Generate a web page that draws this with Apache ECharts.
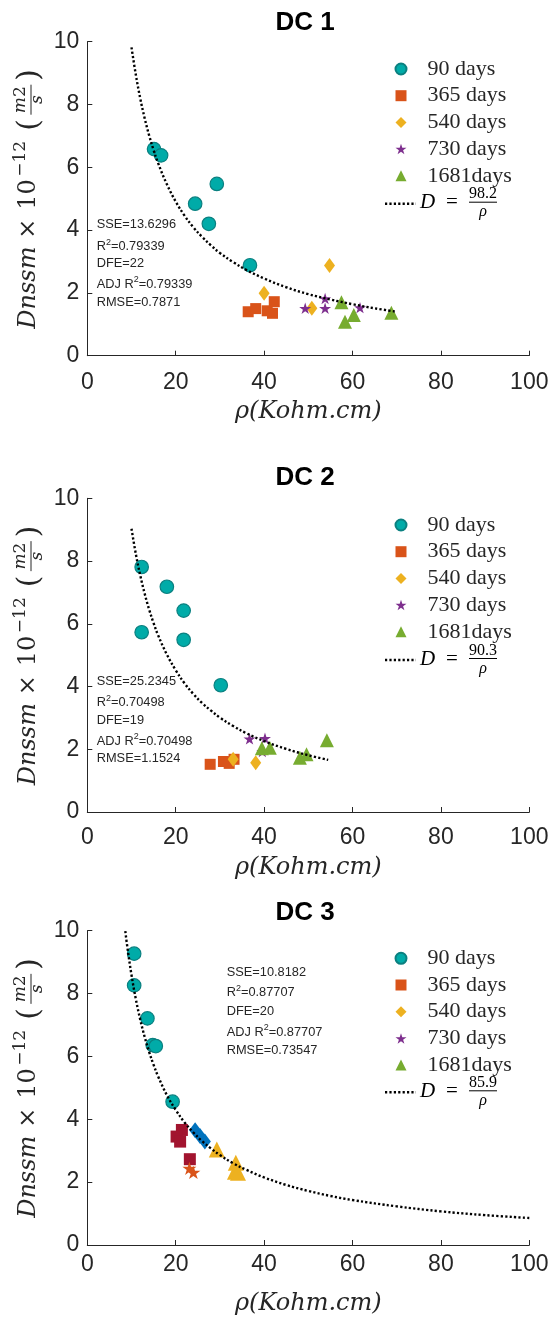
<!DOCTYPE html>
<html><head><meta charset="utf-8">
<script src="https://cdn.jsdelivr.net/npm/echarts@6/dist/echarts.min.js"></script>
<style>html,body{margin:0;padding:0;background:#fff}#c{width:554px;height:1318px}</style>
</head><body><div id="c"></div>
<script>
// ---------------- DATA ----------------
const panelTitles = ['DC 1', 'DC 2', 'DC 3'];
const seriesNames = ['90 days', '365 days', '540 days', '730 days', '1681days'];
const xAxisName = 'ρ(Kohm.cm)';
const xMin = 0, xMax = 100, xStep = 20;
const yMin = 0, yMax = 10, yStep = 2;

const fitCoefficients = ['98.2', '90.3', '85.9'];
const sseValues = ['13.6296', '25.2345', '10.8182'];
const r2Values = ['0.79339', '0.70498', '0.87707'];
const dfeValues = ['22', '19', '20'];
const adjR2Values = ['0.79339', '0.70498', '0.87707'];
const rmseValues = ['0.7871', '1.1524', '0.73547'];

// DC 1
const dc1_90 = [[15.1, 6.58], [16.7, 6.38], [29.3, 5.47], [24.4, 4.84], [27.5, 4.20], [36.8, 2.88]];
const dc1_365 = [[36.4, 1.40], [38.1, 1.50], [40.7, 1.43], [42.3, 1.72], [41.9, 1.35]];
const dc1_540 = [[40.0, 1.99], [54.8, 2.87], [50.8, 1.51]];
const dc1_730 = [[49.3, 1.51], [53.8, 1.82], [53.8, 1.51], [61.7, 1.53]];
const dc1_1681 = [[57.5, 1.70], [58.3, 1.08], [60.3, 1.30], [68.8, 1.37]];
const dc1_fit = [[10, 9.82], [11, 8.93], [12, 8.18], [13, 7.55], [14, 7.01], [15, 6.55], [16, 6.14], [18, 5.46], [20, 4.91], [22, 4.46], [24, 4.09], [26, 3.78], [28, 3.51], [30, 3.27], [33, 2.98], [36, 2.73], [40, 2.46], [45, 2.18], [50, 1.96], [55, 1.79], [60, 1.64], [65, 1.51], [70, 1.40]];

// DC 2
const dc2_90 = [[12.3, 7.81], [18.0, 7.18], [21.8, 6.42], [12.3, 5.73], [21.8, 5.49], [30.2, 4.04]];
const dc2_365 = [[27.8, 1.52], [30.8, 1.61], [32.1, 1.55], [33.2, 1.68]];
const dc2_540 = [[33.0, 1.68], [38.1, 1.57]];
const dc2_730 = [[36.7, 2.33], [40.2, 2.35], [39.6, 1.93]];
const dc2_1681 = [[39.5, 2.03], [41.3, 2.05], [48.1, 1.73], [49.6, 1.84], [54.2, 2.29]];
const dc2_fit = [[10, 9.03], [11, 8.21], [12, 7.53], [13, 6.95], [14, 6.45], [15, 6.02], [16, 5.64], [18, 5.02], [20, 4.52], [22, 4.10], [24, 3.76], [26, 3.47], [28, 3.23], [30, 3.01], [33, 2.74], [36, 2.51], [40, 2.26], [45, 2.01], [50, 1.81], [54.5, 1.66]];

// DC 3
const dc3_90 = [[10.6, 9.27], [10.6, 8.26], [13.6, 7.21], [14.8, 6.36], [15.5, 6.33], [19.3, 4.56]];
const dc3_365 = [[21.4, 3.66], [20.2, 3.45], [21.0, 3.29], [23.2, 2.73]];
const dc3_540 = [[24.4, 3.65], [25.5, 3.47], [26.6, 3.29]];
const dc3_730 = [[23.1, 2.44], [24.0, 2.31]];
const dc3_1681 = [[29.3, 3.04], [33.6, 2.62], [33.4, 2.33], [34.1, 2.30]];
const dc3_fit = [[8.6, 9.99], [9, 9.54], [10, 8.59], [11, 7.81], [12, 7.16], [13, 6.61], [14, 6.14], [15, 5.73], [16, 5.37], [18, 4.77], [20, 4.30], [22, 3.90], [24, 3.58], [26, 3.30], [28, 3.07], [30, 2.86], [33, 2.60], [36, 2.39], [40, 2.15], [45, 1.91], [50, 1.72], [55, 1.56], [60, 1.43], [70, 1.23], [80, 1.07], [90, 0.95], [100, 0.86]];

// ---------------- LAYOUT / STYLE ----------------
const AX = '#262626';
const STAR = 'path://M0,-100L22.45,-30.9L95.1,-30.9L36.3,11.8L58.8,80.9L0,38.2L-58.8,80.9L-36.3,11.8L-95.1,-30.9L-22.45,-30.9Z';
const layout = [
  {top: 41.7, h: 314, titleTop: 9.7, labelMargin: 15, nameGap: 44, legendTop: 58, fitY: 203.7, statsX: 96.7, statsY: [224.3, 246.7, 263.3, 284.3, 302.3]},
  {top: 498.3, h: 313.7, titleTop: 465, labelMargin: 14, nameGap: 44, legendTop: 514, fitY: 660, statsX: 96.7, statsY: [681.7, 702.7, 720, 741, 758.3]},
  {top: 930.7, h: 314.3, titleTop: 899.7, labelMargin: 8, nameGap: 47, legendTop: 947.3, fitY: 1092.3, statsX: 226.7, statsY: [972.3, 992.7, 1011, 1032.3, 1050.3]}
];
const panelData = [
  [dc1_90, dc1_365, dc1_540, dc1_730, dc1_1681, dc1_fit],
  [dc2_90, dc2_365, dc2_540, dc2_730, dc2_1681, dc2_fit],
  [dc3_90, dc3_365, dc3_540, dc3_730, dc3_1681, dc3_fit]
];
const styleStd = [
  {symbol: 'circle', size: 13.5, color: '#00ABA8', border: '#0B8080'},
  {symbol: 'rect', size: 11, color: '#D95319'},
  {symbol: 'diamond', size: [11, 15], color: '#EDB120'},
  {symbol: STAR, size: 12, color: '#7E2F8E'},
  {symbol: 'triangle', size: 14, color: '#77AC30'}
];
const styleDC3 = [
  {symbol: 'circle', size: 13.5, color: '#00ABA8', border: '#0B8080'},
  {symbol: 'rect', size: 12, color: '#A2142F'},
  {symbol: 'diamond', size: [12, 16], color: '#0072BD'},
  {symbol: STAR, size: 14, color: '#D95319'},
  {symbol: 'triangle', size: 16, color: '#EDB120'}
];
const legendIcons = ['circle', 'rect', 'diamond', STAR, 'triangle'];

const grids = [], xAxes = [], yAxes = [], series = [], titles = [], legends = [], graphics = [];

function txt(x, y, text, font, align, extra) {
  return {type: 'text', x: x, y: y, silent: true, style: Object.assign({text: text, font: font, fill: AX,
    align: align || 'left', textAlign: align || 'left', verticalAlign: 'middle', textVerticalAlign: 'middle'}, extra || {})};
}

function yLabel(cy) {
  const F = '"DejaVu Serif"';
  return {type: 'group', x: 37, y: cy - 10, rotation: Math.PI / 2, silent: true, children: [
    txt(-140, -8.4, 'Dnssm', 'italic 24px ' + F),
    txt(-50, -8.4, '×', '24px ' + F),
    txt(-21, -8.4, '10', '24px ' + F),
    txt(12, -16, '−12', '17px ' + F),
    txt(58, -7, '(', '30px ' + F),
    txt(89, -16, '{i|m}{r|2}', '17px ' + F, 'center', {rich: {
      i: {fontStyle: 'italic', fontSize: 17, fontFamily: 'DejaVu Serif', fill: AX, color: AX},
      r: {fontSize: 17, fontFamily: 'DejaVu Serif', fill: AX, color: AX}}}),
    {type: 'line', silent: true, shape: {x1: 74, y1: -6, x2: 104, y2: -6}, style: {stroke: AX, lineWidth: 1}},
    txt(89, 1, 's', 'italic 17px ' + F, 'center'),
    txt(108, -7, ')', '30px ' + F)
  ]};
}

function fitLegend(y0, coef) {
  const F = '"Liberation Serif"';
  return {type: 'group', silent: true, children: [
    {type: 'line', shape: {x1: 385, y1: y0, x2: 416, y2: y0}, style: {stroke: '#000', lineWidth: 2.4, lineDash: [2.2, 2.2]}},
    txt(420, y0 - 1, 'D', 'italic 21px ' + F, 'left', {fill: '#000'}),
    txt(452, y0 - 1, '=', '21px ' + F, 'center', {fill: '#000'}),
    txt(483, y0 - 9.5, coef, '16px ' + F, 'center', {fill: '#000'}),
    {type: 'line', shape: {x1: 469, y1: y0 - 1.5, x2: 497, y2: y0 - 1.5}, style: {stroke: '#000', lineWidth: 1}},
    txt(483, y0 + 8.5, 'ρ', 'italic 16px ' + F, 'center', {fill: '#000'})
  ]};
}

function statsBlock(i) {
  const L = layout[i];
  const F = '12.8px "Liberation Sans"';
  const rich = {
    n: {fontSize: 12.8, fontFamily: 'Liberation Sans', fill: AX, color: AX},
    s: {fontSize: 9, fontFamily: 'Liberation Sans', fill: AX, color: AX, padding: [0, 0, 9, 0]}
  };
  const lines = [
    '{n|SSE=' + sseValues[i] + '}',
    '{n|R}{s|2}{n|=' + r2Values[i] + '}',
    '{n|DFE=' + dfeValues[i] + '}',
    '{n|ADJ R}{s|2}{n|=' + adjR2Values[i] + '}',
    '{n|RMSE=' + rmseValues[i] + '}'
  ];
  return lines.map((t, k) => txt(L.statsX, L.statsY[k], t, F, 'left', {rich: rich}));
}

layout.forEach((L, i) => {
  grids.push({left: 87.3, right: 24.7, top: L.top, height: L.h, containLabel: false});
  xAxes.push({
    type: 'value', gridIndex: i, min: xMin, max: xMax, interval: xStep,
    axisLine: {show: true, onZero: false, lineStyle: {color: AX, width: 1}},
    axisTick: {show: true, inside: true, length: 5, lineStyle: {color: AX, width: 1}},
    splitLine: {show: false},
    axisLabel: {color: AX, fontSize: 23, fontFamily: 'Liberation Sans', margin: L.labelMargin},
    name: xAxisName, nameLocation: 'middle', nameGap: L.nameGap,
    nameTextStyle: {color: AX, fontFamily: 'DejaVu Serif', fontStyle: 'italic', fontSize: 24}
  });
  yAxes.push({
    type: 'value', gridIndex: i, min: yMin, max: yMax, interval: yStep,
    axisLine: {show: true, onZero: false, lineStyle: {color: AX, width: 1}},
    axisTick: {show: true, inside: true, length: 5, lineStyle: {color: AX, width: 1}},
    splitLine: {show: false},
    axisLabel: {color: AX, fontSize: 23, fontFamily: 'Liberation Sans', margin: 8}
  });
  const st = i === 2 ? styleDC3 : styleStd;
  const d = panelData[i];
  for (let k = 0; k < 5; k++) {
    const s = st[k];
    series.push({
      type: 'scatter', name: seriesNames[k], data: d[k], xAxisIndex: i, yAxisIndex: i,
      symbol: s.symbol, symbolSize: s.size, symbolKeepAspect: true,
      itemStyle: {color: s.color, borderColor: s.border || s.color, borderWidth: s.border ? 1.2 : 0, opacity: 1},
      emphasis: {disabled: true}, z: 2
    });
  }
  series.push({
    type: 'line', name: 'fit ' + panelTitles[i], data: d[5], xAxisIndex: i, yAxisIndex: i,
    showSymbol: false, symbol: 'none', smooth: 0.4, silent: true,
    lineStyle: {color: '#000', width: 2.4, type: [2.2, 2.2], cap: 'butt'}, z: 3
  });
  titles.push({
    text: panelTitles[i], left: 275.4, top: L.titleTop, padding: 0,
    textStyle: {fontSize: 26, fontWeight: 'bold', fontFamily: 'Liberation Sans', color: '#000', lineHeight: 26}
  });
  legends.push({
    orient: 'vertical', left: 394.5, top: L.legendTop, padding: 0,
    itemWidth: 11, itemHeight: 11, itemGap: 4.7, selectedMode: false,
    data: seriesNames.map((n, k) => ({name: n, icon: legendIcons[k]})),
    formatter: n => '{t|' + n + '}',
    textStyle: {fontFamily: 'Liberation Serif', fontSize: 22, color: AX,
      rich: {t: {fontFamily: 'Liberation Serif', fontSize: 22, lineHeight: 22, color: AX, padding: [0, 0, 0, 16]}}}
  });
  graphics.push(yLabel(L.top + L.h / 2));
  graphics.push(fitLegend(L.fitY, fitCoefficients[i]));
  statsBlock(i).forEach(e => graphics.push(e));
});

const chart = echarts.init(document.getElementById('c'), null, {renderer: 'canvas'});
chart.setOption({
  animation: false,
  backgroundColor: '#fff',
  title: titles,
  legend: legends,
  grid: grids,
  xAxis: xAxes,
  yAxis: yAxes,
  series: series,
  graphic: {elements: graphics}
});
</script>
</body></html>
